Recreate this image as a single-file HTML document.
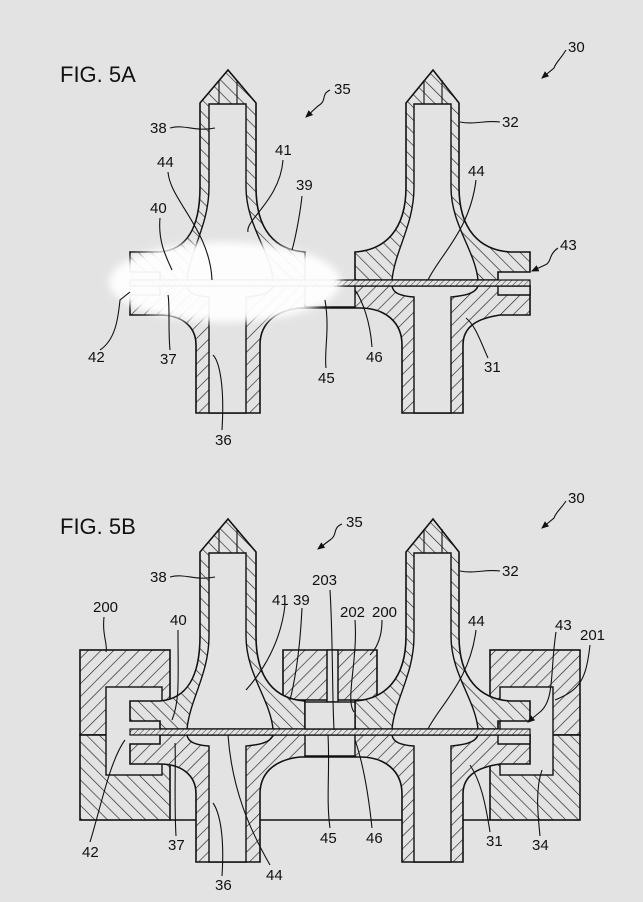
<!DOCTYPE html>
<html><head><style>
html,body{margin:0;padding:0;background:#e3e3e3;}
svg{display:block;}
text{font-family:"Liberation Sans",sans-serif;font-size:15px;fill:#111;}
.fig{font-size:22px;}
.o{stroke:#111;stroke-width:1.6;fill:url(#h);}
.u{stroke:#111;stroke-width:1.6;fill:url(#h2);}
.w{fill:#e3e3e3;stroke:#111;stroke-width:1.4;}
.l{fill:none;stroke:#111;stroke-width:1.1;}
</style></head><body>
<svg width="643" height="902" viewBox="0 0 643 902" xmlns="http://www.w3.org/2000/svg">
<defs>
<pattern id="h" width="9" height="9" patternUnits="userSpaceOnUse" patternTransform="rotate(45)">
<rect width="9" height="9" fill="#e3e3e3"/><line x1="0" y1="0" x2="0" y2="9" stroke="#222" stroke-width="1.3"/></pattern>
<pattern id="h2" width="9" height="9" patternUnits="userSpaceOnUse" patternTransform="rotate(-45)">
<rect width="9" height="9" fill="#e3e3e3"/><line x1="0" y1="0" x2="0" y2="9" stroke="#222" stroke-width="1.3"/></pattern>
<pattern id="hm" width="4" height="4" patternUnits="userSpaceOnUse" patternTransform="rotate(45)">
<rect width="4" height="4" fill="#e3e3e3"/><line x1="0" y1="0" x2="0" y2="4" stroke="#222" stroke-width="0.9"/></pattern>
<filter id="bl"><feGaussianBlur stdDeviation="4"/></filter>
<marker id="ar" markerWidth="8" markerHeight="8" refX="6" refY="4" orient="auto"><path d="M0,1 L7,4 L0,7 Z" fill="#111"/></marker>
<g id="cart">
<path class="o" d="M130,295 L160,295 L160,286 L530,286 L530,315 L500,315 C480,318 463,325 463,345 L463,413 L402,413 L402,345 C402,322 385,308 360,308 L300,308 C280,310 260,320 260,345 L260,413 L196,413 L196,345 C196,325 180,315 160,315 L130,315 Z"/>
<path class="w" d="M498,286 L530,286 L530,295 L498,295 Z"/>
<path class="w" d="M305,286 L355,286 L355,307 L305,307 Z"/>
<path class="w" d="M187,286 L273,286 C270,295 255,296 246,297 L246,413 L209,413 L209,297 C195,296 188,293 187,286 Z"/>
<path class="w" d="M392,286 L478,286 C475,295 460,296 451,297 L451,413 L414,413 L414,297 C400,296 393,293 392,286 Z"/>
<path class="u" d="M130,252 L160,252 C185,250 200,230 200,187 L200,103 L228,70 L256,103 L256,187 C256,230 275,250 305,252 L305,280 L160,280 L160,272 L130,272 Z"/>
<path class="w" d="M209,104 L246,104 L246,187 C246,225 270,250 273,280 L187,280 C190,250 209,225 209,187 Z"/>
<path class="l" d="M219,80 L219,104 M237,80 L237,104"/>
<path class="u" d="M355,252 C385,250 406,230 406,187 L406,103 L433,70 L459,103 L459,187 C459,230 480,250 510,252 L530,252 L530,272 L498,272 L498,280 L355,280 Z"/>
<path class="w" d="M414,104 L451,104 L451,187 C451,225 475,250 478,280 L392,280 C395,250 414,225 414,187 Z"/>
<path class="l" d="M424,80 L424,104 M442,80 L442,104"/>
<rect x="130" y="280" width="400" height="6" fill="url(#hm)" stroke="#111" stroke-width="1.2"/>
</g>
</defs>

<use href="#cart"/>
<ellipse cx="225" cy="282" rx="116" ry="40" fill="#fff" opacity="0.95" filter="url(#bl)"/>
<text x="60" y="82" class="fig">FIG. 5A</text>
<text x="568" y="52">30</text><path class="l" d="M566,50 C560,60 556,62 554,68 L542,78" marker-end="url(#ar)"/>
<text x="334" y="94">35</text><path class="l" d="M330,90 C320,95 328,100 318,106 L306,117" marker-end="url(#ar)"/>
<text x="150" y="133">38</text><path class="l" d="M170,128 C185,124 195,132 215,128"/>
<text x="502" y="127">32</text><path class="l" d="M500,122 C485,120 475,125 460,122"/>
<text x="157" y="167">44</text><path class="l" d="M168,172 C170,200 210,230 212,280"/>
<text x="275" y="155">41</text><path class="l" d="M283,160 C280,200 245,220 248,232"/>
<text x="296" y="190">39</text><path class="l" d="M302,196 C300,215 295,240 292,250"/>
<text x="150" y="213">40</text><path class="l" d="M160,218 C158,240 165,255 172,270"/>
<text x="468" y="176">44</text><path class="l" d="M476,180 C470,230 440,255 428,280"/>
<text x="560" y="250">43</text><path class="l" d="M558,248 C548,255 552,262 545,265 L532,271" marker-end="url(#ar)"/>
<text x="88" y="362">42</text><path class="l" d="M100,350 C115,340 118,320 120,300 L130,292"/>
<text x="160" y="364">37</text><path class="l" d="M170,350 C168,330 170,305 168,295"/>
<text x="318" y="383">45</text><path class="l" d="M326,368 C324,350 330,330 325,300"/>
<text x="366" y="362">46</text><path class="l" d="M372,347 C370,320 362,300 355,290"/>
<text x="484" y="372">31</text><path class="l" d="M488,358 C480,340 475,325 466,318"/>
<text x="215" y="445">36</text><path class="l" d="M222,430 C225,380 218,360 213,355"/>

<rect x="80" y="650" width="90" height="85" class="o"/>
<rect x="80" y="735" width="90" height="85" class="u"/>
<rect x="106" y="687" width="56" height="88" class="w"/>
<rect x="490" y="650" width="90" height="85" class="o"/>
<rect x="490" y="735" width="90" height="85" class="u"/>
<rect x="500" y="687" width="53" height="88" class="w"/>
<path class="o" d="M283,650 L377,650 L377,700 L283,700 Z"/>
<rect x="327" y="650" width="11" height="52" class="w" stroke="none"/>
<path class="l" d="M327,650 L327,700 M338,650 L338,700"/>
<line x1="170" y1="820" x2="490" y2="820" stroke="#111" stroke-width="1.4"/>
<use href="#cart" transform="translate(0,449)"/>
<rect x="305" y="702" width="50" height="27" class="w"/>
<text x="60" y="534" class="fig">FIG. 5B</text>
<text x="568" y="503">30</text><path class="l" d="M566,501 C560,510 556,512 554,518 L542,528" marker-end="url(#ar)"/>
<text x="346" y="527">35</text><path class="l" d="M342,524 C332,528 338,535 330,540 L318,549" marker-end="url(#ar)"/>
<text x="150" y="582">38</text><path class="l" d="M170,577 C185,573 195,581 215,577"/>
<text x="502" y="576">32</text><path class="l" d="M500,571 C485,569 475,574 460,571"/>
<text x="312" y="585">203</text><path class="l" d="M330,590 C333,640 332,690 334,730"/>
<text x="272" y="605">41</text><path class="l" d="M285,605 C280,650 255,680 246,690"/>
<text x="293" y="605">39</text><path class="l" d="M302,608 C300,650 295,680 290,700"/>
<text x="340" y="617">202</text><path class="l" d="M355,620 C358,660 345,700 354,712"/>
<text x="372" y="617">200</text><path class="l" d="M382,620 C382,640 375,650 370,655"/>
<text x="93" y="612">200</text><path class="l" d="M104,617 C102,635 108,645 106,652"/>
<text x="170" y="625">40</text><path class="l" d="M178,630 C178,680 180,700 172,720"/>
<text x="468" y="626">44</text><path class="l" d="M476,630 C470,680 440,705 428,729"/>
<text x="555" y="630">43</text><path class="l" d="M556,632 C550,670 555,700 540,712 L528,722" marker-end="url(#ar)"/>
<text x="580" y="640">201</text><path class="l" d="M590,645 C586,680 580,690 555,700"/>
<text x="82" y="857">42</text><path class="l" d="M90,842 C100,810 110,760 125,740"/>
<text x="168" y="850">37</text><path class="l" d="M176,836 C174,800 176,760 175,743"/>
<text x="320" y="843">45</text><path class="l" d="M330,828 C326,800 330,770 328,735"/>
<text x="366" y="843">46</text><path class="l" d="M372,828 C368,790 362,760 355,740"/>
<text x="486" y="846">31</text><path class="l" d="M490,832 C485,800 480,780 470,765"/>
<text x="532" y="850">34</text><path class="l" d="M540,836 C538,815 535,790 542,770"/>
<text x="215" y="890">36</text><path class="l" d="M222,876 C225,830 218,810 213,803"/>
<text x="266" y="880">44</text><path class="l" d="M270,865 C250,830 232,790 228,735"/>
</svg>
</body></html>
